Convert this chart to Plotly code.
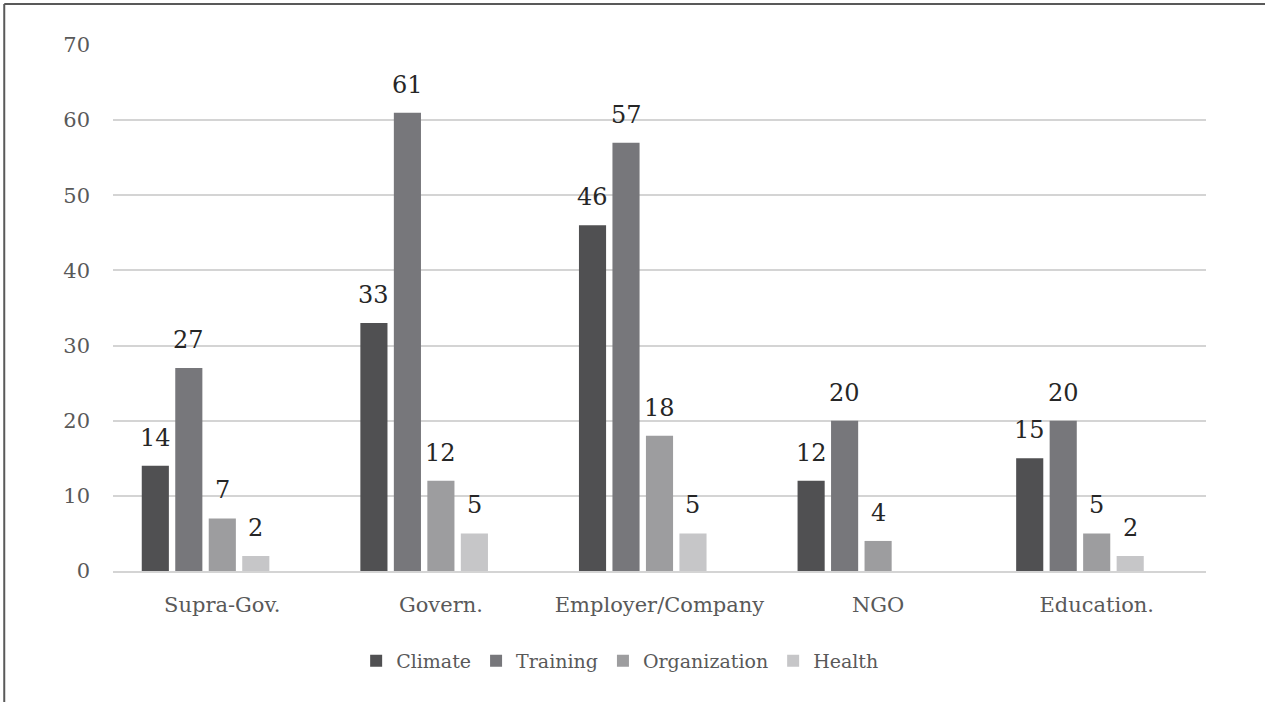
import plotly.graph_objects as go

categories = ["Supra-Gov.", "Govern.", "Employer/Company", "NGO", "Education."]
climate = [14, 33, 46, 12, 15]
training = [27, 61, 57, 20, 20]
organization = [7, 12, 18, 4, 5]
health = [2, 5, 5, None, 2]
series_names = ["Climate", "Training", "Organization", "Health"]
series_values = [climate, training, organization, health]
series_colors = ["#505052", "#77777b", "#9d9d9f", "#c6c6c8"]
y_ticks = [0, 10, 20, 30, 40, 50, 60, 70]

FONT = "DejaVu Serif"
BARGAP = 0.234
NSLOTS = 5  # Excel-style group has an empty fifth series slot

fig = go.Figure()
for name, vals, col in zip(series_names, series_values, series_colors):
    fig.add_trace(go.Bar(name=name, x=categories, y=vals, marker_color=col,
                         marker_line_width=0))
# empty fifth series (keeps the group offset like the original)
fig.add_trace(go.Bar(name="", x=categories, y=[None] * len(categories),
                     showlegend=False, hoverinfo="skip"))

slot = (1 - BARGAP) / NSLOTS
annotations = []
for i, vals in enumerate(series_values):
    off = (i - (NSLOTS - 1) / 2) * slot
    for j, v in enumerate(vals):
        if v is None:
            continue
        annotations.append(dict(x=j + off, y=v, xref="x", yref="y", text=str(v),
                                showarrow=False, yanchor="bottom", yshift=12,
                                font=dict(family=FONT, size=24, color="#262626")))

fig.update_layout(
    barmode="group",
    bargap=BARGAP,
    bargroupgap=0.19,
    width=1265, height=702,
    margin=dict(l=113, r=59, t=45, b=131),
    paper_bgcolor="white",
    plot_bgcolor="white",
    font=dict(family=FONT, size=21, color="#595959"),
    annotations=annotations,
    legend=dict(orientation="h", x=0.464, xanchor="center", y=-0.171, yanchor="middle",
                font=dict(family=FONT, size=19, color="#595959"),
                itemwidth=30, traceorder="normal"),
    showlegend=True,
    shapes=[
        dict(type="line", xref="paper", yref="paper", x0=-0.0995, x1=-0.0995,
             y0=1.078, y1=-0.26, line=dict(color="#595959", width=2)),
        dict(type="line", xref="paper", yref="paper", x0=-0.0995, x1=1.06,
             y0=1.078, y1=1.078, line=dict(color="#595959", width=2)),
    ],
)
fig.update_yaxes(range=[0, 70], tickvals=y_ticks, showgrid=True, gridcolor="#d4d4d4",
                 gridwidth=2, zeroline=False, showline=False, ticks="",
                 ticklabelstandoff=22, tickfont=dict(family=FONT, size=21, color="#595959"))
fig.update_xaxes(showline=True, linecolor="#d4d4d4", linewidth=2, ticks="",
                 ticklabelstandoff=14, tickfont=dict(family=FONT, size=21, color="#595959"))

fig.write_html("out.html")
